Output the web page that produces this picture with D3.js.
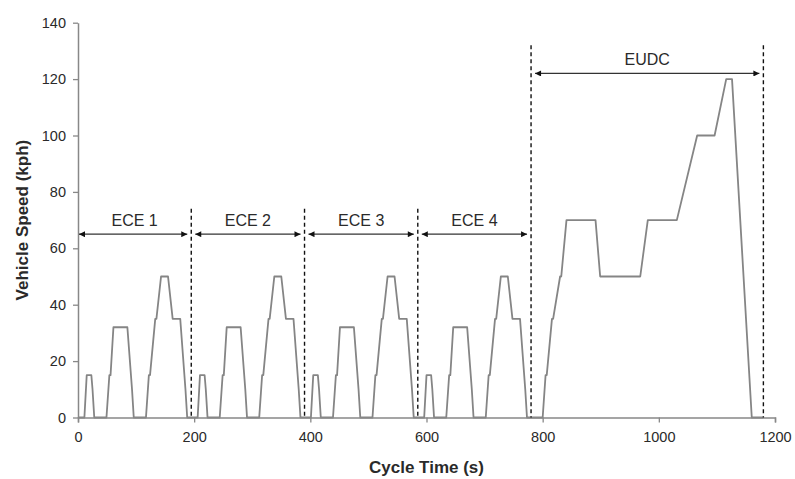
<!DOCTYPE html>
<html>
<head>
<meta charset="utf-8">
<script src="https://cdn.jsdelivr.net/npm/d3@7"></script>
<style>
  body { margin: 0; background: #fff; }
  svg text { font-family: "Liberation Sans", Arial, sans-serif; fill: #2a2a2a; }
  .axis-title { font-size: 17px; font-weight: bold; }
  .phase-label { font-size: 16px; }
</style>
</head>
<body>
<div id="chart"></div>
<script>
// one ECE-15 urban cycle (195 s), time offset in seconds and speed in kph
var ece_time  = [0, 11, 15, 23, 25, 28, 49, 54, 56, 61, 85, 93, 96, 117, 122, 124, 133, 135, 143, 155, 163, 176, 185, 188, 195];
var ece_speed = [0,  0, 15, 15, 10,  0,  0, 15, 15, 32, 32, 10,  0,   0,  15,  15,  35,  35,  50,  50,  35,  35,  10,   0,   0];
var ece_starts = [0, 195, 390, 585];

// extra-urban cycle, starts at 780 s
var eudc_start = 780;
var eudc_time  = [0, 20, 25, 27, 36, 38, 50, 52, 61, 111, 119, 188, 201, 251, 286, 316, 336, 346, 380, 400];
var eudc_speed = [0,  0, 15, 15, 35, 35, 50, 50, 70,  70,  50,  50,  70,  70, 100, 100, 120, 120,   0,   0];

var x_ticks = [0, 200, 400, 600, 800, 1000, 1200];
var y_ticks = [0, 20, 40, 60, 80, 100, 120, 140];

// phase brackets
var phase_names = ["ECE 1", "ECE 2", "ECE 3", "ECE 4", "EUDC"];
var phase_from  = [0, 195, 390, 585, 780];
var phase_to    = [195, 390, 585, 780, 1180];
var phase_level = [65, 65, 65, 65, 122];
var divider_top = [74, 74, 74, 132, 132];
var divider_at  = [195, 390, 585, 780, 1180];

var width = 795, height = 479;
var margin = {left: 78, right: 20, top: 22, bottom: 62};

var svg = d3.select("#chart").append("svg")
    .attr("width", width)
    .attr("height", height);

var x = d3.scaleLinear()
    .domain([0, 1200])
    .range([margin.left, 775]);

var y = d3.scaleLinear()
    .domain([0, 140])
    .range([417.5, 22.7]);

// build the whole speed trace
var trace = [];
ece_starts.forEach(function(s){
  ece_time.forEach(function(t, i){
    trace.push([s + t, ece_speed[i]]);
  });
});
eudc_time.forEach(function(t, i){
  trace.push([eudc_start + t, eudc_speed[i]]);
});

// arrow markers
var defs = svg.append("defs");
defs.append("marker")
    .attr("id", "head")
    .attr("viewBox", "0 0 10 10")
    .attr("refX", 10)
    .attr("refY", 5)
    .attr("markerWidth", 7)
    .attr("markerHeight", 6)
    .attr("markerUnits", "userSpaceOnUse")
    .attr("orient", "auto-start-reverse")
  .append("path")
    .attr("d", "M0,0 L10,5 L0,10 z")
    .attr("fill", "#111");

// speed line
var line = d3.line()
    .x(function(d){ return x(d[0]); })
    .y(function(d){ return y(d[1]); });

svg.append("path")
    .datum(trace)
    .attr("d", line)
    .attr("fill", "none")
    .attr("stroke", "#858585")
    .attr("stroke-width", 1.8)
    .attr("stroke-linejoin", "round");

// the axes
var x_axis = d3.axisBottom(x)
    .tickValues(x_ticks)
    .tickFormat(d3.format("d"))
    .tickSize(5)
    .tickSizeOuter(5)
    .tickPadding(9);

var y_axis = d3.axisLeft(y)
    .tickValues(y_ticks)
    .tickSize(5)
    .tickSizeOuter(0)
    .tickPadding(7);

var gx = svg.append("g")
    .attr("transform", "translate(0," + y(0) + ")")
    .call(x_axis);

var gy = svg.append("g")
    .attr("transform", "translate(" + x(0) + ",0)")
    .call(y_axis);

[gx, gy].forEach(function(g){
  g.select(".domain").attr("stroke", "#888").attr("stroke-width", 1.5);
  g.selectAll(".tick line").attr("stroke", "#888").attr("stroke-width", 1.3);
  g.selectAll(".tick text")
      .attr("fill", "#2a2a2a")
      .style("font-size", "14.5px")
      .style("font-family", "'Liberation Sans', Arial, sans-serif");
});

// dashed dividers
svg.selectAll(".divider")
    .data(divider_at)
  .enter().append("line")
    .attr("class", "divider")
    .attr("x1", function(d){ return x(d); })
    .attr("x2", function(d){ return x(d); })
    .attr("y1", function(d, i){ return y(divider_top[i]); })
    .attr("y2", y(0))
    .attr("stroke", "#111")
    .attr("stroke-width", 1.4)
    .attr("stroke-dasharray", "4,3");

// double headed arrows
svg.selectAll(".phase-arrow")
    .data(phase_names)
  .enter().append("line")
    .attr("class", "phase-arrow")
    .attr("x1", function(d, i){ return i == 0 ? x(phase_from[i]) + 1 : x(phase_from[i]) + 4; })
    .attr("x2", function(d, i){ return x(phase_to[i]) - 4; })
    .attr("y1", function(d, i){ return y(phase_level[i]); })
    .attr("y2", function(d, i){ return y(phase_level[i]); })
    .attr("stroke", "#333")
    .attr("stroke-width", 1.3)
    .attr("marker-start", "url(#head)")
    .attr("marker-end", "url(#head)");

svg.selectAll(".phase-label")
    .data(phase_names)
  .enter().append("text")
    .attr("class", "phase-label")
    .attr("x", function(d, i){ return (x(phase_from[i]) + x(phase_to[i])) / 2; })
    .attr("y", function(d, i){ return y(phase_level[i]) - 8; })
    .attr("text-anchor", "middle")
    .text(function(d){ return d; });

// axis titles
svg.append("text")
    .attr("class", "axis-title")
    .attr("x", (x(0) + x(1200)) / 2)
    .attr("y", 473)
    .attr("text-anchor", "middle")
    .text("Cycle Time (s)");

svg.append("text")
    .attr("class", "axis-title")
    .attr("transform", "translate(22," + y(70) + ") rotate(-90)")
    .attr("text-anchor", "middle")
    .attr("dy", "0.35em")
    .text("Vehicle Speed (kph)");
</script>
</body>
</html>
